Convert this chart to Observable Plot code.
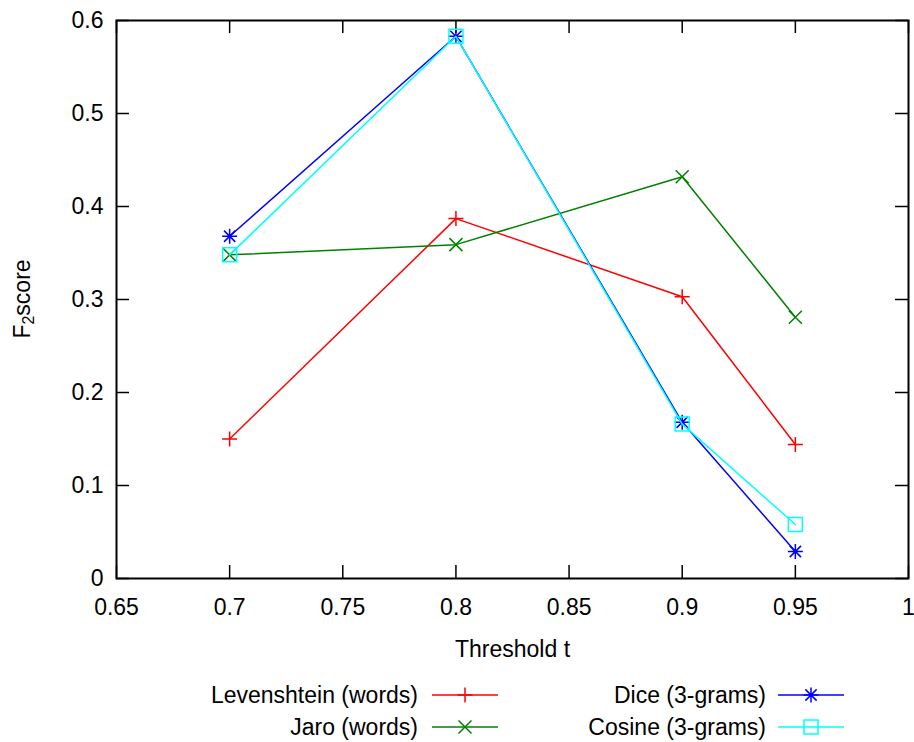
<!DOCTYPE html>
<html><head><meta charset="utf-8">
<script src="https://cdn.jsdelivr.net/npm/d3@7"></script>
<script src="https://cdn.jsdelivr.net/npm/@observablehq/plot@0.6"></script>
<style>body{margin:0;background:#fff;} #chart{width:914px;}</style>
</head><body><div id="chart"></div>
<script>
// ---- data ----
const thresholds = [0.7, 0.8, 0.9, 0.95];
const levenshtein = [0.150, 0.387, 0.303, 0.144];
const jaro = [0.348, 0.359, 0.432, 0.281];
const dice = [0.368, 0.583, 0.168, 0.029];
const cosine = [0.348, 0.583, 0.166, 0.058];
const seriesNames = ["Levenshtein (words)", "Jaro (words)", "Dice (3-grams)", "Cosine (3-grams)"];
const seriesColors = ["#ff0000", "#008000", "#0000ff", "#00ffff"];
const xTicks = [0.65, 0.7, 0.75, 0.8, 0.85, 0.9, 0.95, 1];
const yTicks = [0, 0.1, 0.2, 0.3, 0.4, 0.5, 0.6];
const xLabel = "Threshold t";

// ---- layout ----
const W = 914, H = 660, mL = 116, mR = 6, mT = 20, mB = 82;
const innerW = W - mL - mR, innerH = H - mT - mB;
const FONT = "'Liberation Sans', Arial, Helvetica, sans-serif";
const FS = 23;
const TICK = 13;

function half(size) { return Math.sqrt(size / Math.PI); }
const symPlus = {draw(c, s) { const h = half(s); c.moveTo(-h, 0); c.lineTo(h, 0); c.moveTo(0, -h); c.lineTo(0, h); }};
const symTimes = {draw(c, s) { const h = half(s); c.moveTo(-h, -h); c.lineTo(h, h); c.moveTo(-h, h); c.lineTo(h, -h); }};
const symStar = {draw(c, s) { const h = half(s), d = h * 0.75;
  c.moveTo(-h, 0); c.lineTo(h, 0); c.moveTo(0, -h); c.lineTo(0, h);
  c.moveTo(-d, -d); c.lineTo(d, d); c.moveTo(-d, d); c.lineTo(d, -d); }};
const symSquare = {draw(c, s) { const h = half(s); c.moveTo(-h, -h); c.lineTo(h, -h); c.lineTo(h, h); c.lineTo(-h, h); c.closePath(); }};

const seriesValues = [levenshtein, jaro, dice, cosine];
const seriesSymbols = [symPlus, symTimes, symStar, symSquare];
const seriesR = [7.5, 6.5, 7.5, 7];

const series = seriesNames.map((name, k) => ({
  name, color: seriesColors[k], symbol: seriesSymbols[k], r: seriesR[k],
  rows: thresholds.map((t, i) => ({series: name, t, v: seriesValues[k][i]}))
}));

const marks = [];
for (const s of series) {
  marks.push(Plot.line(s.rows, {x: "t", y: "v", stroke: s.color, strokeWidth: 1.5}));
  marks.push(Plot.dot(s.rows, {x: "t", y: "v", symbol: s.symbol, r: s.r, stroke: s.color, fill: "none", strokeWidth: 1.5}));
}

const plot = Plot.plot({
  width: W, height: H,
  marginLeft: mL, marginRight: mR, marginTop: mT, marginBottom: mB,
  style: {fontFamily: FONT, fontSize: FS + "px", color: "black", background: "white", overflow: "visible"},
  x: {domain: [0.65, 1]},
  y: {domain: [0, 0.6]},
  marks: [
    Plot.tickX(xTicks, {x: d => d, insetTop: innerH - TICK, stroke: "black", strokeWidth: 1.5}),
    Plot.tickX(xTicks, {x: d => d, insetBottom: innerH - TICK, stroke: "black", strokeWidth: 1.5}),
    Plot.tickY(yTicks, {y: d => d, insetRight: innerW - TICK, stroke: "black", strokeWidth: 1.5}),
    Plot.tickY(yTicks, {y: d => d, insetLeft: innerW - TICK, stroke: "black", strokeWidth: 1.5}),
    ...marks,
    Plot.frame({stroke: "black", strokeWidth: 2}),
    Plot.axisX({ticks: xTicks, tickSize: 0, tickPadding: 20, tickFormat: d => String(d), label: null, fontSize: FS}),
    Plot.axisY({ticks: yTicks, tickSize: 0, tickPadding: 13, tickFormat: d => String(d), label: null, fontSize: FS}),
    Plot.text([xLabel], {text: d => d, frameAnchor: "bottom", dy: 71, lineAnchor: "middle", fontSize: FS, fill: "black"})
  ]
});

// y label with subscript
const psvg = d3.select(plot);
const yl = psvg.append("text")
  .attr("transform", `translate(22,${mT + innerH / 2}) rotate(-90)`)
  .attr("text-anchor", "middle").attr("dominant-baseline", "central")
  .attr("font-family", FONT).attr("font-size", FS).attr("fill", "black");
yl.append("tspan").text("F");
yl.append("tspan").attr("dy", 6).attr("font-size", 16).text("2");
yl.append("tspan").attr("dy", -6).text("score");

document.getElementById("chart").appendChild(plot);

// legend
const legend = d3.create("svg").attr("width", W).attr("height", 742 - H)
  .attr("font-family", FONT).attr("font-size", FS).style("display", "block");
const cols = [{tx: 418, x0: 432, x1: 498}, {tx: 766, x0: 778, x1: 844}];
const rowsY = [35, 67];
const slots = [[0, 0], [0, 1], [1, 0], [1, 1]];
series.forEach((s, k) => {
  const [ci, ri] = slots[k];
  const c = cols[ci], y = rowsY[ri];
  legend.append("text").attr("x", c.tx).attr("y", y).attr("text-anchor", "end")
    .attr("dominant-baseline", "central").attr("fill", "black").text(s.name);
  legend.append("line").attr("x1", c.x0).attr("x2", c.x1).attr("y1", y).attr("y2", y)
    .attr("stroke", s.color).attr("stroke-width", 1.5);
  legend.append("path").attr("transform", `translate(${(c.x0 + c.x1) / 2},${y})`)
    .attr("d", d3.symbol().type(s.symbol).size(Math.PI * s.r * s.r)())
    .attr("fill", "none").attr("stroke", s.color).attr("stroke-width", 1.5);
});
document.getElementById("chart").appendChild(legend.node());
</script>
</body></html>
